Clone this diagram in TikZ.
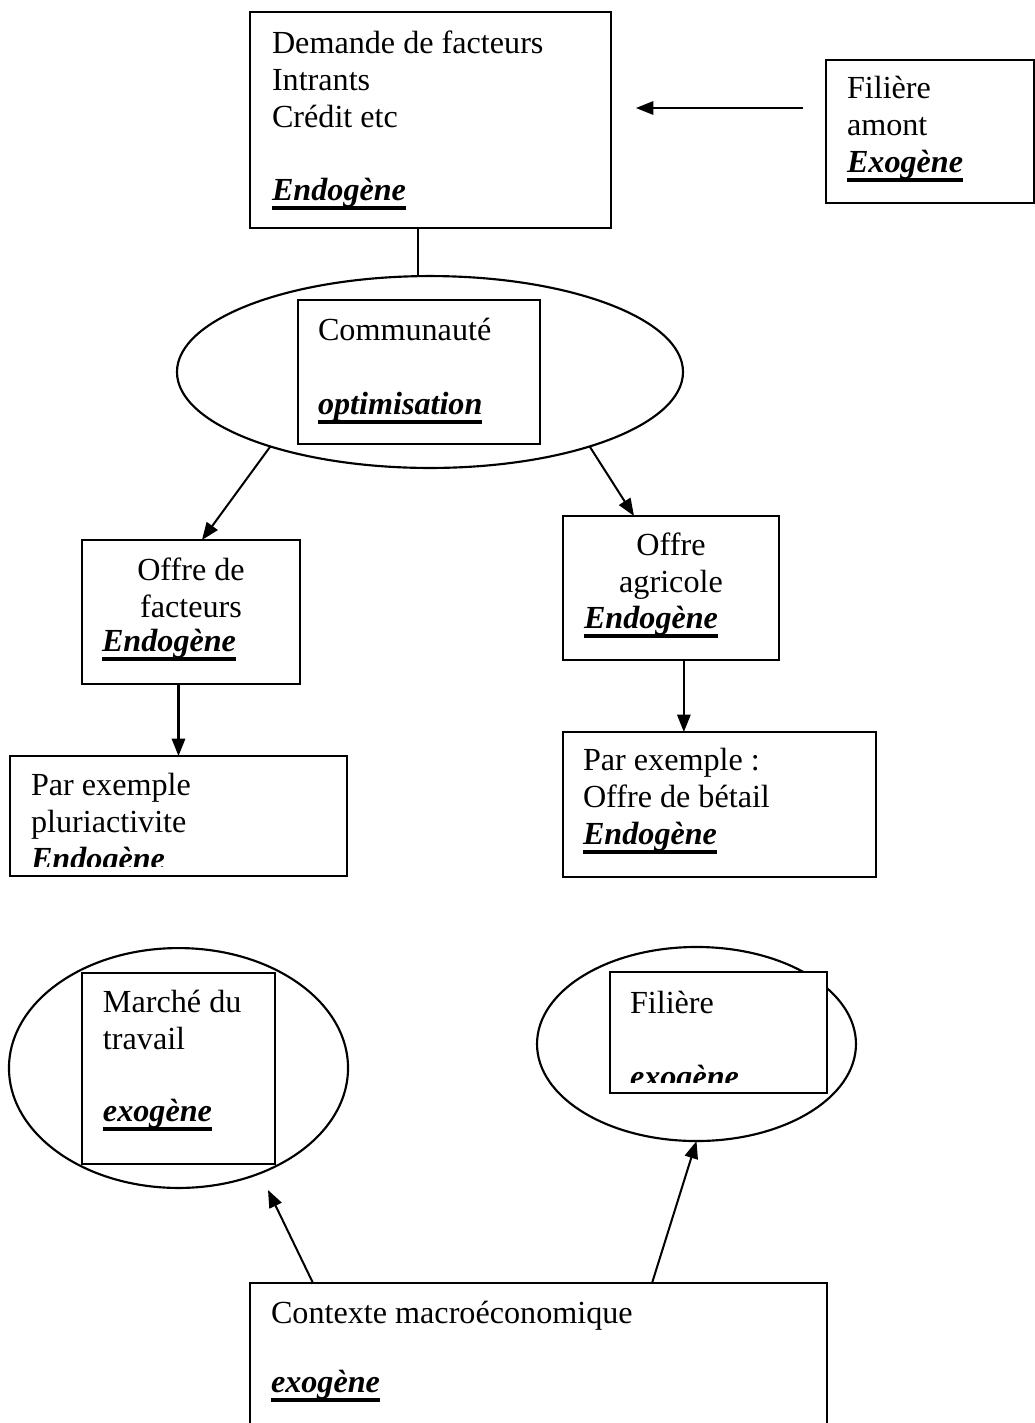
\documentclass[tikz,border=0pt]{standalone}
\usepackage{fontspec}
\setmainfont{Liberation Serif}
\usetikzlibrary{fit,shapes.geometric,arrows.meta}
\newsavebox{\ulbox}
\newcommand{\myul}[1]{\sbox{\ulbox}{\bfseries\itshape #1}\rlap{\usebox{\ulbox}}\rule[-3.7pt]{\wd\ulbox}{1.4pt}}
\newcommand{\mybi}[1]{{\bfseries\itshape #1}}
\begin{document}
\begin{tikzpicture}[x=0.3731pt,y=-0.3731pt,
  font=\fontsize{12}{13.8}\selectfont,
  box/.style={draw,line width=0.9pt,inner sep=0pt,outer sep=0pt,fill=white},
  ell/.style={draw,ellipse,line width=0.8pt,inner sep=0pt,outer sep=0pt},
  txt/.style={anchor=base west,inner sep=0pt,outer sep=0pt},
  ctr/.style={anchor=base,inner sep=0pt,outer sep=0pt},
  arr/.style={line width=0.75pt,-{Triangle[length=6.5pt,width=5pt]}},
  lin/.style={line width=0.75pt}]
\useasboundingbox (0,0) rectangle (1035,1423);

% ---- ellipses
\node[ell,minimum width=188.8pt,minimum height=71.6pt] (commE) at (430,372) {};
\node[ell,minimum width=126.5pt,minimum height=89.5pt] (marE) at (178.5,1068) {};
\node[ell,minimum width=119.0pt,minimum height=72.4pt] (filE) at (696.5,1044) {};

% ---- boxes
\node[box,fit={(250,12) (611,228)}] (dem) {};
\node[box,fit={(826,60) (1034,203)}] (fam) {};
\node[box,fit={(298,300) (540,444)}] (comm) {};
\node[box,fit={(82,540) (300,684)}] (ofac) {};
\node[box,fit={(563,516) (779,660)}] (oagr) {};
\node[box,fit={(10,756) (347,876)}] (plur) {};
\node[box,fit={(563,732) (876,877)}] (bet) {};
\node[box,fit={(82,973) (275,1164)}] (mar) {};
\node[box,fit={(610,972) (827,1093)}] (fil) {};
\node[box,fit={(250,1283) (827,1440)}] (ctx) {};

% ---- texts
\node[txt] (d1) at (272,53) {Demande de facteurs};
\node[txt] (d2) at (272,90) {Intrants};
\node[txt] (d3) at (272,127) {Crédit etc};
\node[txt] (d4) at (272,200) {\myul{Endogène}};

\node[txt] (f1) at (847,98) {Filière};
\node[txt] (f2) at (847,135) {amont};
\node[txt] (f3) at (847,172) {\myul{Exogène}};

\node[txt] (c1) at (318,340) {Communauté};
\node[txt] (c2) at (318,414) {\myul{optimisation}};

\node[ctr] (o1) at (191,580) {Offre de};
\node[ctr] (o2) at (191,617) {facteurs};
\node[txt] (o3) at (102,651) {\myul{Endogène}};

\node[ctr] (a1) at (671,555) {Offre};
\node[ctr] (a2) at (671,592) {agricole};
\node[txt] (a3) at (584,628) {\myul{Endogène}};

\begin{scope}
\clip (12,758) rectangle (345,866);
\node[txt] (p1) at (31,795) {Par exemple};
\node[txt] (p2) at (31,832) {pluriactivite};
\node[txt] (p3) at (31,869) {\myul{Endogène}};
\end{scope}

\node[txt] (b1) at (583,770) {Par exemple :};
\node[txt] (b2) at (583,807) {Offre de bétail};
\node[txt] (b3) at (583,844) {\myul{Endogène}};

\node[txt] (m1) at (103,1012) {Marché du};
\node[txt] (m2) at (103,1049) {travail};
\node[txt] (m3) at (103,1121) {\myul{exogène}};

\begin{scope}
\clip (612,974) rectangle (825,1082);
\node[txt] (g1) at (630,1013) {Filière};
\node[txt] (g2) at (630,1087) {\myul{exogène}};
\end{scope}

\node[txt] (x1) at (271,1323) {Contexte macroéconomique};
\node[txt] (x2) at (271,1392) {\myul{exogène}};

% ---- connectors
\coordinate (cx) at (418,0);
\coordinate (yA) at (0,108);
\coordinate (tipM) at (268,1190);
\draw[lin] (dem.south -| cx) -- (commE.north -| cx);
\draw[arr,shorten <=8.6pt,shorten >=9.3pt] (fam.west |- yA) -- (dem.east |- yA);
\draw[arr] (commE.205) -- ([xshift=4.1pt]ofac.north);
\draw[arr] (commE.335) -- ([xshift=-13.8pt]oagr.north);
\draw[arr] (ofac.south -| plur.north) -- (plur.north);
\draw[arr] ([xshift=4.8pt]oagr.south) -- ([xshift=4.8pt]oagr.south |- bet.north);
\draw[arr] ([xshift=23.5pt]ctx.north west) -- (tipM);
\draw[arr] ([xshift=150pt]ctx.north west) -- (filE.south);
\end{tikzpicture}
\end{document}
